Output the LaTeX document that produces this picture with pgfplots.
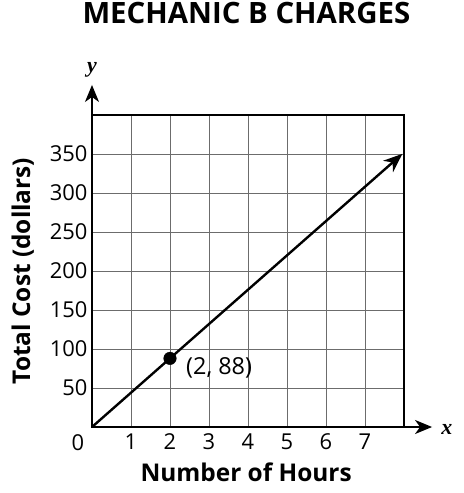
\documentclass[border=0pt]{standalone}
\usepackage{pgfplots}
\pgfplotsset{compat=1.18}
\usepackage{fontspec}
\setmainfont{Open Sans}
\newfontfamily\serifbi{Liberation Serif}
\usetikzlibrary{arrows.meta}
\newcommand\tl{\fontsize{22}{26}\selectfont}
\begin{document}
\begin{tikzpicture}
\useasboundingbox (-92bp,-66bp) rectangle (372bp,427bp);
\begin{axis}[
  at={(0,0)}, anchor=origin,
  scale only axis, width=312bp, height=312bp,
  xmin=0, xmax=8, ymin=0, ymax=400,
  xtick={1,...,7}, minor xtick={8},
  ytick={50,100,...,350}, minor ytick={400},
  /pgf/number format/assume math mode=true,
  tick label style={font=\tl},
  major tick length=0pt, minor tick length=0pt,
  grid=both,
  major grid style={gray!85!black, line width=0.8pt},
  minor grid style={gray!85!black, line width=0.8pt},
  axis line style={black, line width=1.6pt},
  xticklabel style={yshift=-3bp},
  yticklabel style={xshift=-1bp},
  clip=false,
  xlabel={\bfseries Number of Hours},
  xlabel style={at={(axis description cs:0.494,-0.144)}, anchor=center, font=\fontsize{24.5}{28}\selectfont},
  ylabel={\bfseries Total Cost (dollars)},
  ylabel style={at={(axis description cs:-0.222,0.5)}, anchor=center, rotate=0, font=\fontsize{24.5}{28}\selectfont},
  title={\bfseries MECHANIC B CHARGES},
  title style={at={(axis description cs:0.495,1.308)}, anchor=center, font=\fontsize{29.5}{34}\selectfont},
]
\addplot[black, line width=2.4pt, -{Stealth[length=19bp,width=15bp,inset=6bp]}, shorten >=-2bp] coordinates {(0,0) (7.92,348.5)};
\addplot[only marks, mark=*, mark size=6.3bp, black] coordinates {(2,88)};
\node[font=\fontsize{23.5}{27}\selectfont] at (axis cs:3.26,75.6) {(2, 88)};
\draw[black, line width=1.8pt, -{Stealth[length=17bp,width=14bp,inset=5bp]}] (axis cs:0,0) -- (axis cs:8.72,0);
\draw[black, line width=1.8pt, -{Stealth[length=17bp,width=14bp,inset=5bp]}] (axis cs:0,0) -- (axis cs:0,438.5);
\node[anchor=center, font=\tl] at (axis cs:-0.36,-20.5) {0};
\node[font=\serifbi\bfseries\itshape\fontsize{22}{26}\selectfont] at (axis cs:0,457.5) {y};
\node[font=\serifbi\bfseries\itshape\fontsize{22}{26}\selectfont] at (axis cs:9.1,-3) {x};
\end{axis}
\end{tikzpicture}
\end{document}
